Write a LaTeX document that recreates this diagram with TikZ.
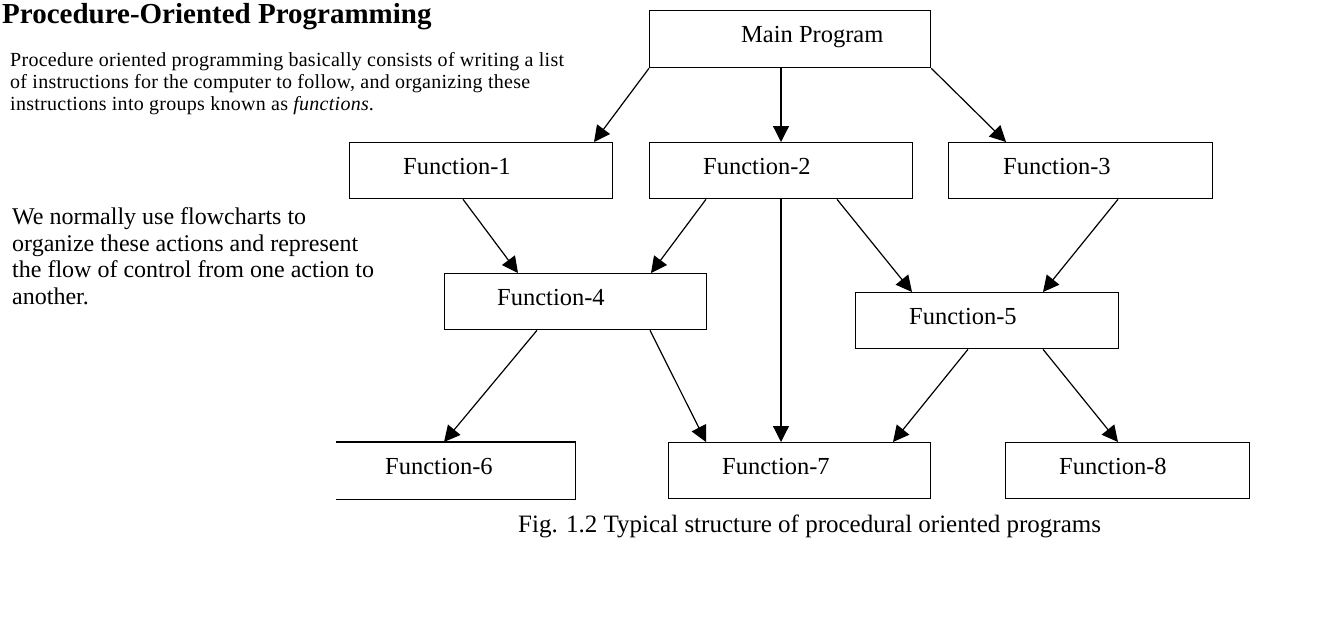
\documentclass[tikz,border=0pt]{standalone}
\usepackage{fontspec}
\setmainfont{Liberation Serif}
\usetikzlibrary{arrows.meta}
\begin{document}
\begin{tikzpicture}[x=1pt,y=-1pt,
  box/.style={draw, line width=1.3pt, anchor=north west, inner sep=0pt, minimum height=56pt},
  lbl/.style={anchor=base west, inner sep=0pt, font=\fontsize{24.5}{28}\selectfont},
  body/.style={anchor=base west, inner sep=0pt, font=\fontsize{20}{22}\selectfont\addfontfeature{LetterSpace=1.4}},
  side/.style={anchor=base west, inner sep=0pt, font=\fontsize{24}{27}\selectfont},
  arr/.style={line width=1.2pt, -{Triangle[length=16pt,width=16pt]}}]
\useasboundingbox (0,0) rectangle (1317,624);
% texts
\node[anchor=base west, inner sep=0pt, font=\fontsize{29}{32}\selectfont\bfseries] (title) at (2,23) {Procedure-Oriented Programming};
\node[body] (p1) at (10,66) {Procedure oriented programming basically consists of writing a list};
\node[body] (p2) at (10,88) {of instructions for the computer to follow, and organizing these};
\node[body] (p3) at (10,110) {instructions into groups known as \textit{functions}.};
\node[side] (q1) at (12,224) {We normally use flowcharts to};
\node[side] (q2) at (12,251) {organize these actions and represent};
\node[side] (q3) at (12,277) {the flow of control from one action to};
\node[side] (q4) at (12,304) {another.};
\node[anchor=base west, inner sep=0pt, font=\fontsize{25}{28}\selectfont] (cap) at (518,532) {Fig. 1.2 Typical structure of procedural oriented programs};
% boxes
\node[box, minimum width=281pt, minimum height=57pt] (main) at (649,10) {};
\node[box, minimum width=263pt] (f1) at (349,142) {};
\node[box, minimum width=263pt] (f2) at (649,142) {};
\node[box, minimum width=264pt] (f3) at (948,142) {};
\node[box, minimum width=262pt] (f4) at (444,273) {};
\node[box, minimum width=263pt] (f5) at (855,292) {};
\node[box, draw=none, minimum width=238pt] (f6) at (336,442) {};
\draw[line width=1.3pt] (f6.north west) -- (f6.north east) -- (f6.south east) -- (f6.south west);
\node[box, minimum width=262pt] (f7) at (668,442) {};
\node[box, minimum width=244pt] (f8) at (1005,442) {};
% labels
\node[lbl] (lmain) at (741,42) {Main Program};
\node[lbl] (l1) at (403,174) {Function-1};
\node[lbl] (l2) at (703,174) {Function-2};
\node[lbl] (l3) at (1003,174) {Function-3};
\node[lbl] (l4) at (497,305) {Function-4};
\node[lbl] (l5) at (909,324) {Function-5};
\node[lbl] (l6) at (385,474) {Function-6};
\node[lbl] (l7) at (722,474) {Function-7};
\node[lbl] (l8) at (1059,474) {Function-8};
% arrows
\draw[arr] (main.south west) -- ([xshift=245pt]f1.north west);
\draw[arr] ([xshift=132pt]main.south west) -- ([xshift=132pt]f2.north west);
\draw[arr] (main.south east) -- ([xshift=58pt]f3.north west);
\draw[arr] ([xshift=114pt]f1.south west) -- ([xshift=74pt]f4.north west);
\draw[arr] ([xshift=57pt]f2.south west) -- ([xshift=207pt]f4.north west);
\draw[arr] ([xshift=132pt]f2.south west) -- ([xshift=113pt]f7.north west);
\draw[arr] ([xshift=188pt]f2.south west) -- ([xshift=57pt]f5.north west);
\draw[arr] ([xshift=170pt]f3.south west) -- ([xshift=188pt]f5.north west);
\draw[arr] ([xshift=93pt]f4.south west) -- ([xshift=108pt]f6.north west);
\draw[arr] ([xshift=206pt]f4.south west) -- ([xshift=38pt]f7.north west);
\draw[arr] ([xshift=113pt]f5.south west) -- ([xshift=225pt]f7.north west);
\draw[arr] ([xshift=188pt]f5.south west) -- ([xshift=113pt]f8.north west);
\end{tikzpicture}
\end{document}
